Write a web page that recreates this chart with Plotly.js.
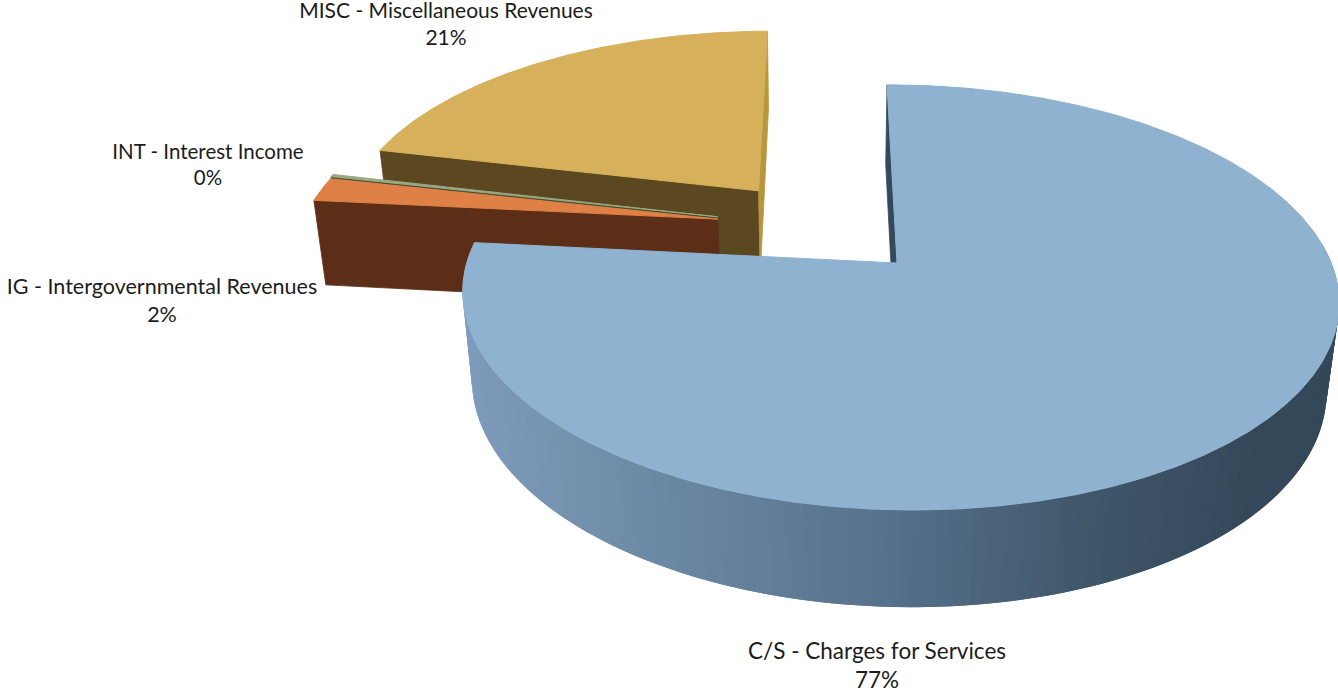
<!DOCTYPE html>
<html>
<head>
<meta charset="utf-8">
<script src="https://cdn.plot.ly/plotly-3.0.1.min.js"></script>
<style>html,body{margin:0;padding:0;background:#fff}#chart{width:1338px;height:691px}</style>
</head>
<body>
<div id="chart"></div>
<script>
// Revenue shares, clockwise from the top of the pie
const categories = ['C/S - Charges for Services', 'IG - Intergovernmental Revenues', 'INT - Interest Income', 'MISC - Miscellaneous Revenues'];
const shares = [76.6, 1.9, 0.2, 21.3];

// Slice colours: top face, cut face, outer wall
const topColors = ['#8fb2d1', '#df8146', '#9aa883', '#d6b05a'];
const faceColors = ['#34495e', '#5d2e17', '#4a4f2c', '#5b4720'];
const sideColors = ['#34495e', '#5d2e17', '#4a4f2c', '#b8953f'];

// Offset of each exploded slice on the pie plane (unit radius)
const explodeX = [0, -0.424, -0.425, -0.33];
const explodeY = [0, 0.22, 0.232, 0.37];

// Label anchors and sizes
const labelX = [877, 162, 208, 446];
const labelY = [668, 303, 167, 26];
const labelSize = [22.5, 21.5, 20.5, 21];

// Perspective view of the pie
const view = {cx: 897, cy: 263, ax: 432.3, by: 207, shear: -11.6, lean: -0.0045, tilt: 0.162, drop: 90, shrink: 0.025, skew: -1.5};

function project(px, py, depth) {
  const w = 1 + view.tilt * py + view.lean * px + view.shrink * depth;
  return [
    view.cx + view.skew * depth + (view.ax * px + view.shear * py) / w,
    view.cy - (view.by * py - view.drop * depth) / w
  ];
}
function rim(angle, s, depth) {
  const r = angle * Math.PI / 180;
  return project(explodeX[s] + Math.sin(r), explodeY[s] + Math.cos(r), depth);
}
function apex(s, depth) { return project(explodeX[s], explodeY[s], depth); }

function polygon(points, color, edge) {
  return {
    type: 'scatter', mode: 'lines', hoverinfo: 'skip', showlegend: false,
    x: points.map(p => p[0]), y: points.map(p => p[1]),
    fill: 'toself', fillcolor: color,
    line: {color: color, width: edge === undefined ? 0.8 : edge}
  };
}

// Outer wall shading runs from light on the left to dark on the right
const shadeX = [470, 600, 750, 900, 1100, 1250, 1340];
const shadeRGB = [[127,155,188],[114,144,171],[100,128,155],[84,112,138],[63,85,104],[52,72,90],[52,72,90]];
function shade(x) {
  let i = 0;
  while (i < shadeX.length - 2 && x > shadeX[i + 1]) i++;
  const t = Math.max(0, Math.min(1, (x - shadeX[i]) / (shadeX[i + 1] - shadeX[i])));
  const c = shadeRGB[i].map((v, k) => Math.round(v + (shadeRGB[i + 1][k] - v) * t));
  return 'rgb(' + c.join(',') + ')';
}

// Angular span of each slice
const spans = [];
let running = 0;
shares.forEach(v => { spans.push([running, running + v * 3.6]); running += v * 3.6; });

function topFace(s) {
  const pts = [apex(s, 0)];
  const [a, b] = spans[s];
  const n = Math.max(2, Math.ceil((b - a) / 0.5));
  for (let i = 0; i <= n; i++) pts.push(rim(a + (b - a) * i / n, s, 0));
  pts.push(apex(s, 0));
  return polygon(pts, topColors[s], 1);
}
function cutFace(s, angle, color) {
  return polygon([apex(s, 0), rim(angle, s, 0), rim(angle, s, 1), apex(s, 1), apex(s, 0)], color);
}

const traces = [];

// MISC sits furthest back
traces.push(cutFace(3, spans[3][0], faceColors[3]));
traces.push(cutFace(3, spans[3][1], sideColors[3]));
traces.push(topFace(3));

// INT, a sliver under the IG slice
traces.push(cutFace(2, spans[2][0], faceColors[2]));
traces.push(topFace(2));

// IG
traces.push(cutFace(1, spans[1][0], faceColors[1]));
traces.push(topFace(1));

// C/S: cut face, curved wall in overlapping shaded strips, then the top
traces.push(cutFace(0, spans[0][0], faceColors[0]));
const wallStep = 1;
for (let a = 84; a < spans[0][1] - 4; a += wallStep) {
  const e = a + wallStep * 2;
  const p = [rim(a, 0, 0), rim(e, 0, 0), rim(e, 0, 1), rim(a, 0, 1), rim(a, 0, 0)];
  const t = polygon(p, shade(rim(a, 0, 1)[0]), 0);
  t.line = {width: 0};
  traces.push(t);
}
traces.push(topFace(0));

// Category name over its rounded percentage
traces.push({
  type: 'scatter', mode: 'text', hoverinfo: 'skip', showlegend: false, cliponaxis: false,
  x: labelX, y: labelY,
  text: categories.map((c, i) => c + '<br>' + Math.round(shares[i]) + '%'),
  textposition: 'middle center',
  textfont: {family: 'Lato, sans-serif', size: labelSize, color: '#1c1c1c'}
});

const hidden = {visible: false, fixedrange: true};
Plotly.newPlot('chart', traces, {
  width: 1338, height: 691,
  margin: {l: 0, r: 0, t: 0, b: 0},
  paper_bgcolor: '#ffffff', plot_bgcolor: '#ffffff',
  showlegend: false,
  xaxis: Object.assign({range: [0, 1338]}, hidden),
  yaxis: Object.assign({range: [691, 0]}, hidden)
}, {displayModeBar: false, staticPlot: true});
</script>
</body>
</html>
